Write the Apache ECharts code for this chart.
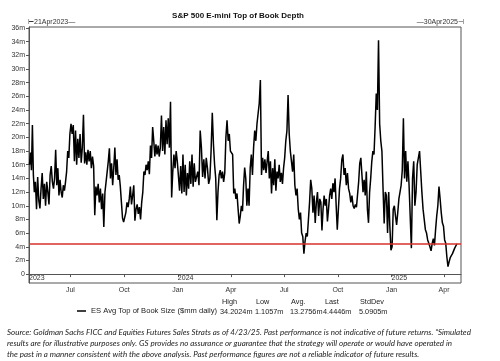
<!DOCTYPE html>
<html><head><meta charset="utf-8">
<script src="https://cdn.jsdelivr.net/npm/echarts@6/dist/echarts.min.js"></script>
<style>html,body{margin:0;padding:0;background:#fff}#c{width:500px;height:361px}</style>
</head><body><div id="c"></div>
<script>
// ---- data (values in $mm) ----
const a2023_04 = [16.0, 17.8, 15.2, 21.8, 14.5, 12.0];
const a2023_05 = [13.5, 9.5, 14.2, 10.8, 9.6, 12.5, 14.8, 11.0, 13.2, 10.0, 13.5, 12.0, 10.2, 14.5, 15.8, 13.5];
const a2023_06 = [12.5, 14.0, 18.2, 13.0, 15.5, 11.5, 13.8, 12.0, 11.2, 13.0, 12.2, 13.5, 15.0, 18.0, 17.0, 20.5];
const a2023_07 = [22.0, 20.5, 21.8, 16.5, 21.0, 16.0, 19.8, 17.0, 20.5, 16.3, 18.5, 23.3, 16.2, 17.8, 16.0, 18.2];
const a2023_08 = [16.5, 18.0, 15.5, 17.2, 15.8, 8.6, 12.8, 11.5, 13.2, 10.5, 12.5, 9.5, 11.8, 6.9, 12.0, 13.5];
const a2023_09 = [15.0, 16.5, 18.4, 14.0, 16.2, 13.0, 15.5, 18.5, 14.5, 16.8, 13.8, 14.5, 12.8, 10.5, 8.2, 7.6];
const a2023_10 = [7.8, 9.0, 10.5, 9.8, 11.0, 12.8, 10.2, 11.5, 13.0, 7.8, 9.5, 10.2, 8.8, 9.8, 8.0, 10.5];
const a2023_11 = [12.0, 15.0, 14.5, 16.0, 15.2, 16.5, 14.6, 18.8, 17.0, 21.5, 19.5, 17.2, 19.0, 17.5, 18.8, 17.2];
const a2023_12 = [18.5, 23.2, 18.0, 21.5, 17.5, 22.5, 19.0, 22.8, 18.5, 25.2, 11.2, 15.0, 17.5, 15.5, 18.0, 16.5];
const a2024_01 = [16.5, 12.2, 15.8, 11.8, 17.5, 12.0, 16.0, 11.5, 14.8, 12.5, 16.5, 13.2, 17.5, 12.8, 16.2, 13.5];
const a2024_02 = [13.5, 15.0, 13.0, 21.0, 18.5, 14.2, 16.8, 14.0, 17.0, 15.5, 13.2, 14.0, 18.0, 23.6];
const a2024_03 = [19.0, 16.0, 14.0, 7.9, 12.0, 14.5, 15.2, 14.0, 15.0, 13.5, 14.8, 20.0, 22.5, 19.5, 20.5, 18.0];
const a2024_04 = [18.0, 17.5, 11.8, 12.5, 11.0, 11.8, 9.5, 7.4, 8.5, 10.0, 9.2, 13.0, 15.6, 14.0, 10.0, 12.5];
const a2024_05 = [10.0, 15.5, 17.5, 14.5, 18.5, 21.0, 19.5, 22.0, 23.5, 25.0, 28.4, 14.5, 17.0, 15.2, 16.8, 14.8];
const a2024_06 = [16.5, 18.0, 14.0, 16.5, 11.8, 15.5, 13.0, 16.8, 12.2, 15.0, 14.0, 16.0, 13.5, 14.8, 13.2, 15.5];
const a2024_07 = [17.0, 19.5, 21.0, 26.2, 20.5, 18.0, 16.5, 15.0, 17.5, 13.0, 11.5, 12.5, 9.5, 8.0, 9.0, 6.0];
const a2024_08 = [5.5, 3.0, 4.8, 6.0, 5.5, 8.0, 10.5, 13.8, 12.5, 9.0, 11.5, 7.5, 10.5, 12.0, 8.5, 11.0];
const a2024_09 = [10.5, 6.4, 9.5, 11.5, 10.0, 11.0, 7.7, 9.5, 11.5, 12.5, 11.0, 13.3, 12.0, 14.0, 10.0, 6.5];
const a2024_10 = [9.5, 12.5, 14.0, 16.7, 17.5, 14.5, 15.5, 13.0, 14.8, 12.5, 11.8, 10.5, 11.5, 10.0, 9.6, 10.2];
const a2024_11 = [9.8, 10.0, 13.5, 16.2, 17.0, 14.5, 12.0, 13.8, 11.5, 15.0, 9.5, 7.5, 12.0, 14.0, 16.5, 18.0];
const a2024_12 = [17.5, 21.6, 26.4, 24.0, 34.2024, 22.0, 19.5, 18.0, 12.5, 7.4, 12.0, 11.5, 6.0, 12.0, 7.0, 3.5];
const a2025_01 = [4.0, 9.5, 10.0, 8.5, 7.2, 9.0, 11.0, 12.0, 13.0, 15.2, 22.8, 14.0, 18.0, 13.5, 16.5, 13.0];
const a2025_02 = [13.0, 3.8, 14.0, 16.5, 10.0, 12.0, 16.0, 17.0, 18.0, 15.0, 12.0, 9.5, 8.0, 6.5];
const a2025_03 = [6.0, 5.0, 4.5, 4.0, 3.4, 4.5, 5.2, 4.2, 6.5, 8.5, 10.0, 12.8, 11.0, 9.0, 7.5, 7.0];
const a2025_04 = [5.0, 4.5, 2.5, 1.1057, 1.8, 2.4, 2.2, 3.0, 3.2, 3.8, 3.6, 4.4446];

// period boundaries of each group above (last entry = day after last observation)
const periodStarts = ['2023-04-21','2023-05-01','2023-06-01','2023-07-01','2023-08-01','2023-09-01','2023-10-01',
  '2023-11-01','2023-12-01','2024-01-01','2024-02-01','2024-03-01','2024-04-01','2024-05-01','2024-06-01',
  '2024-07-01','2024-08-01','2024-09-01','2024-10-01','2024-11-01','2024-12-01','2025-01-01','2025-02-01',
  '2025-03-01','2025-04-01','2025-04-24'];
const groups = [a2023_04,a2023_05,a2023_06,a2023_07,a2023_08,a2023_09,a2023_10,a2023_11,a2023_12,
  a2024_01,a2024_02,a2024_03,a2024_04,a2024_05,a2024_06,a2024_07,a2024_08,a2024_09,a2024_10,a2024_11,a2024_12,
  a2025_01,a2025_02,a2025_03,a2025_04];

const seriesName = 'ES Avg Top of Book Size ($mm daily)';
const axisStart = '2023-04-21', axisEnd = '2025-04-30';
const quarterTicks = ['2023-07-01','2023-10-01','2024-01-01','2024-04-01','2024-07-01','2024-10-01','2025-01-01','2025-04-01'];
const yearMarks = ['2023-04-21','2024-01-01','2025-01-01'];
const yTicks = [0,2,4,6,8,10,12,14,16,18,20,22,24,26,28,30,32,34,36];
const monthNames = ['Jan','Feb','Mar','Apr','May','Jun','Jul','Aug','Sep','Oct','Nov','Dec'];
const statNames = ['High','Low','Avg.','Last','StdDev'];
const statValues = ['34.2024m','1.1057m','13.2756m','4.4446m','5.0905m'];
const titleText = 'S&P 500 E-mini Top of Book Depth';
const startText = '\u22a221Apr2023\u2014';
const endText = '\u201430Apr2025\u22a3';
const footLines = [
  'Source: Goldman Sachs FICC and Equities Futures Sales Strats as of 4/23/25. Past performance is not indicative of future returns. \u201cSimulated',
  'results are for illustrative purposes only. GS provides no assurance or guarantee that the strategy will operate or would have operated in',
  'the past in a manner consistent with the above analysis. Past performance figures are not a reliable indicator of future results.'
];

// ---- build ----
function ts(s){const p=s.split('-').map(Number);return Date.UTC(p[0],p[1]-1,p[2]);}
const seriesData = [];
groups.forEach((g,k)=>{
  const s = ts(periodStarts[k]), e = ts(periodStarts[k+1]);
  g.forEach((v,i)=>{ seriesData.push([s + (i+0.5)/g.length*(e-s), v]); });
});
const lastValue = a2025_04[a2025_04.length-1];

const FONT = '"Liberation Sans", Arial, sans-serif';
const FOOTFONT = 'Lato, "Open Sans", sans-serif';
// fit the footnote's first line to the width it occupies in the reference
const mctx = document.createElement('canvas').getContext('2d');
mctx.font = 'italic 10px ' + FOOTFONT;
const footSize = Math.min(9, 10 * 464 / mctx.measureText(footLines[0]).width);

const statHeadX = [222,256,291,325,360];
const statValX = [220,255,290,323,359];

const graphic = [
  {type:'text', x:238, y:16, style:{text:titleText, align:'center', verticalAlign:'middle', font:'bold 8px '+FONT, fill:'#111'}},
  {type:'text', x:28, y:22, style:{text:startText, align:'left', verticalAlign:'middle', font:'7px '+FONT, fill:'#333'}},
  {type:'text', x:464, y:22, style:{text:endText, align:'right', verticalAlign:'middle', font:'7px '+FONT, fill:'#333'}}
];
statNames.forEach((n,i)=>graphic.push({type:'text', x:statHeadX[i], y:302, style:{text:n, align:'left', verticalAlign:'middle', font:'7.3px '+FONT, fill:'#222'}}));
statValues.forEach((n,i)=>graphic.push({type:'text', x:statValX[i], y:312, style:{text:n, align:'left', verticalAlign:'middle', font:'7.3px '+FONT, fill:'#222'}}));
footLines.forEach((t,i)=>graphic.push({type:'text', x:7, y:332+i*11, style:{text:t, align:'left', verticalAlign:'middle', font:'italic '+footSize.toFixed(2)+'px '+FOOTFONT, fill:'#222'}}));

const chart = echarts.init(document.getElementById('c'), null, {renderer:'canvas'});
chart.setOption({
  animation:false,
  backgroundColor:'#fff',
  grid:{left:29, right:39, top:27, bottom:78, show:true, borderColor:'#555', borderWidth:1, backgroundColor:'transparent'},
  legend:{left:77, top:307, itemWidth:9, itemHeight:1.5, icon:'rect', padding:0,
    textStyle:{fontSize:7.6, fontFamily:FONT, color:'#222'}, data:[seriesName]},
  xAxis:[
    {type:'value', min:ts(axisStart), max:ts(axisEnd), scale:true,
      axisLine:{show:true, lineStyle:{color:'#555', width:1}},
      splitLine:{show:false},
      axisTick:{show:true, customValues:quarterTicks.map(ts), length:3, lineStyle:{color:'#555'}},
      axisLabel:{customValues:quarterTicks.map(ts), formatter:v=>monthNames[new Date(v).getUTCMonth()],
        fontSize:7, fontFamily:FONT, color:'#333', margin:4}},
    {type:'value', min:ts(axisStart), max:ts(axisEnd), scale:true, position:'bottom',
      axisLine:{show:false}, axisTick:{show:false}, splitLine:{show:false},
      axisLabel:{inside:true, customValues:yearMarks.map(ts), formatter:v=>String(new Date(v).getUTCFullYear()),
        align:'left', fontSize:7, fontFamily:FONT, color:'#333', margin:1}}
  ],
  yAxis:{type:'value', min:-1.3, max:36.15,
    axisLine:{show:true, lineStyle:{color:'#555'}},
    axisTick:{show:true, customValues:yTicks, length:3, lineStyle:{color:'#555'}},
    axisLabel:{customValues:yTicks, formatter:v=>v===0?'0':v+'m', fontSize:7, fontFamily:FONT, color:'#333', margin:4},
    splitLine:{show:false}},
  series:[{
    type:'line', name:seriesName, data:seriesData, xAxisIndex:0, showSymbol:false,
    lineStyle:{color:'#000', width:1.5}, itemStyle:{color:'#000'},
    markLine:{silent:true, symbol:'none', label:{show:false}, emphasis:{disabled:true},
      lineStyle:{color:'#d9302a', width:1.5, type:'solid'}, data:[{yAxis:lastValue}]}
  }],
  graphic:graphic
});
</script></body></html>
